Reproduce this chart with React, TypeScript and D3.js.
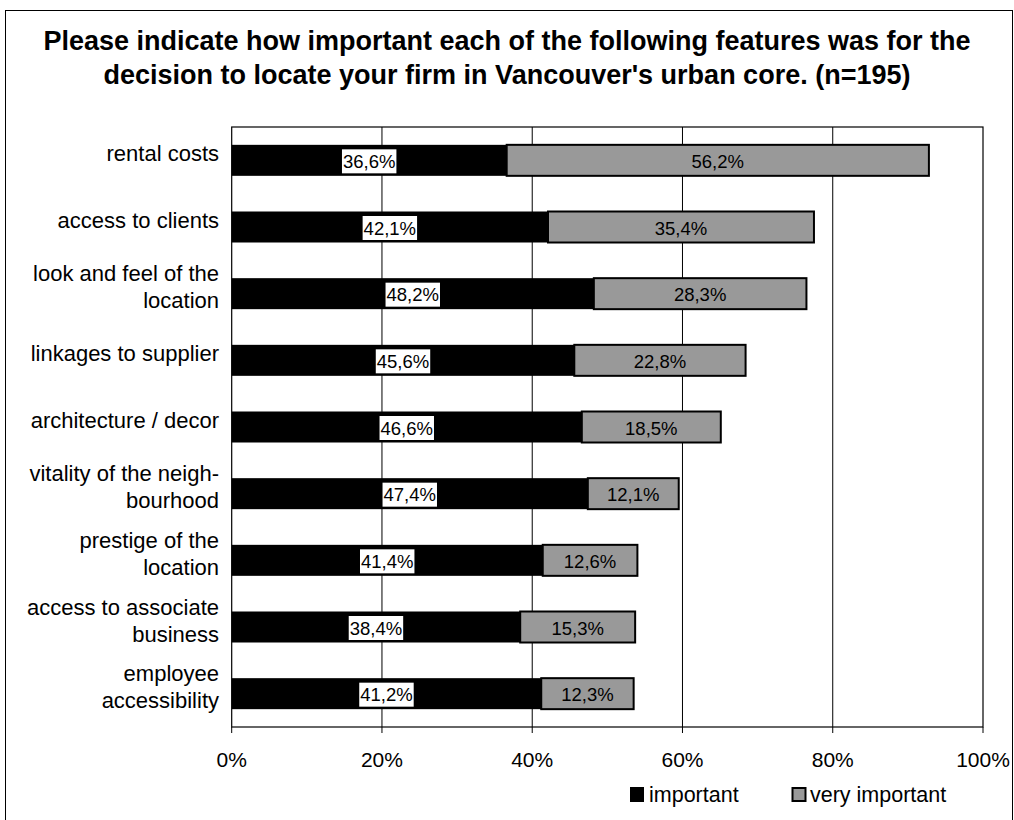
import React from "react";
import * as d3 from "d3";

const categories: string[][] = [
  ["rental costs"],
  ["access to clients"],
  ["look and feel of the", "location"],
  ["linkages to supplier"],
  ["architecture / decor"],
  ["vitality of the neigh-", "bourhood"],
  ["prestige of the", "location"],
  ["access to associate", "business"],
  ["employee", "accessibility"],
];
const important = [36.6, 42.1, 48.2, 45.6, 46.6, 47.4, 41.4, 38.4, 41.2];
const veryImportant = [56.2, 35.4, 28.3, 22.8, 18.5, 12.1, 12.6, 15.3, 12.3];
const ticks = [0, 20, 40, 60, 80, 100];
const seriesNames = ["important", "very important"];

const fmt = (v: number) => v.toFixed(1).replace(".", ",") + "%";
const charW = (ch: string) => (ch === "," ? 0.278 : ch === "%" ? 0.889 : 0.556);
const textW = (s: string, fs: number) => s.split("").reduce((a, c) => a + charW(c), 0) * fs;

export default function App() {
  const W = 1014, H = 820;
  const left = 231.7, right = 983, top = 127, bottom = 727;
  const x = d3.scaleLinear().domain([0, 100]).range([left, right]);
  const y = d3
    .scaleBand<number>()
    .domain(d3.range(categories.length))
    .range([top, bottom])
    .paddingInner(0.535)
    .paddingOuter(0.2675);
  const font = "Liberation Sans, Arial, sans-serif";
  const dfs = 18.5;
  return (
    <svg width={W} height={H} style={{ position: "absolute", left: 0, top: 0 }} fontFamily={font}>
      <rect x={0} y={0} width={W} height={H} fill="#fff" />
      <rect x={5.5} y={10.5} width={1007} height={812} fill="none" stroke="#000" strokeWidth={1} />
      <text x={507} y={50} textAnchor="middle" fontSize={27} fontWeight="bold">
        Please indicate how important each of the following features was for the
      </text>
      <text x={507} y={84} textAnchor="middle" fontSize={27} fontWeight="bold">
        decision to locate your firm in Vancouver's urban core. (n=195)
      </text>
      {ticks.slice(1, -1).map((t) => (
        <line key={t} x1={x(t)} x2={x(t)} y1={top} y2={bottom} stroke="#000" strokeWidth={1} />
      ))}
      <rect x={left} y={top} width={right - left} height={bottom - top} fill="none" stroke="#000" strokeWidth={1.2} />
      {ticks.map((t) => (
        <g key={t}>
          <line x1={x(t)} x2={x(t)} y1={bottom} y2={bottom + 6} stroke="#000" />
          <text x={x(t)} y={767} textAnchor="middle" fontSize={21}>
            {t}%
          </text>
        </g>
      ))}
      {categories.map((c, i) => {
        const by = y(i)!;
        const bh = y.bandwidth();
        const cy = by + bh / 2;
        const x0 = x(0), x1 = x(important[i]), x2 = x(important[i] + veryImportant[i]);
        const l1 = fmt(important[i]);
        const lblW = textW(l1, dfs) + 2;
        return (
          <g key={i}>
            <rect x={x0} y={by} width={x1 - x0} height={bh} fill="#000" />
            <rect x={x1} y={by} width={x2 - x1} height={bh} fill="#999" stroke="#000" strokeWidth={2} />
            <rect x={(x0 + x1) / 2 - lblW / 2} y={cy - 11} width={lblW} height={24} fill="#fff" />
            <text x={(x0 + x1) / 2} y={cy + 7.5} textAnchor="middle" fontSize={dfs}>
              {l1}
            </text>
            <text x={(x1 + x2) / 2} y={cy + 7.5} textAnchor="middle" fontSize={dfs}>
              {fmt(veryImportant[i])}
            </text>
            {c.map((line, k) => (
              <text
                key={k}
                x={219}
                y={c.length === 1 ? cy + 1 : cy - 12.5 + k * 27}
                textAnchor="end"
                fontSize={22}
              >
                {line}
              </text>
            ))}
          </g>
        );
      })}
      <rect x={630.5} y={787.5} width={13} height={14} fill="#000" stroke="#000" />
      <text x={649} y={802} fontSize={21.5}>
        {seriesNames[0]}
      </text>
      <rect x={792.5} y={788} width={13} height={13} fill="#999" stroke="#000" strokeWidth={2} />
      <text x={810} y={802} fontSize={21.5}>
        {seriesNames[1]}
      </text>
    </svg>
  );
}
